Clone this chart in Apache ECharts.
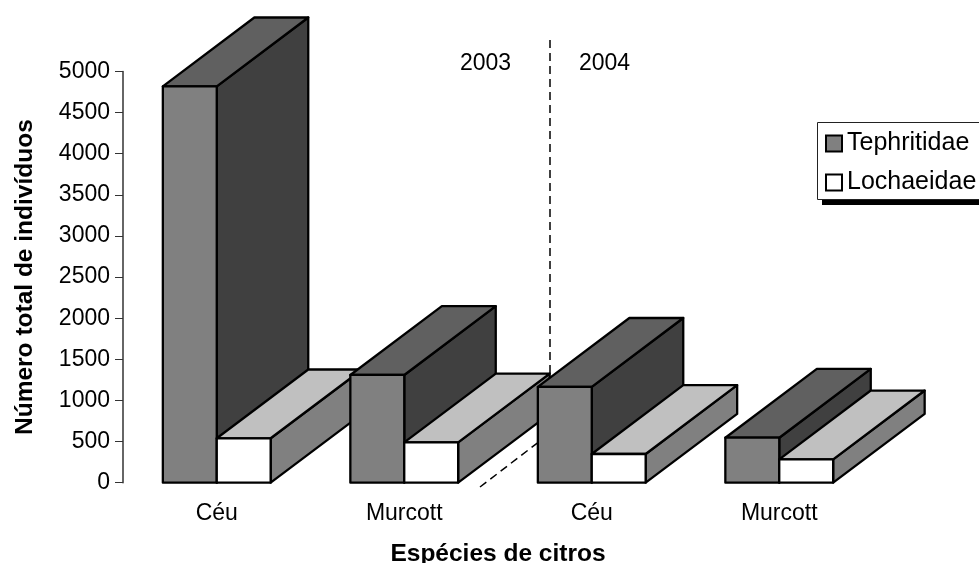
<!DOCTYPE html>
<html>
<head>
<meta charset="utf-8">
<script src="https://cdn.jsdelivr.net/npm/echarts@6/dist/echarts.min.js"></script>
<style>
  html, body { margin: 0; padding: 0; background: #fff; overflow: hidden; }
  #chart { width: 979px; height: 563px; }
</style>
</head>
<body>
<div id="chart"></div>
<script>
const categories = ['Céu', 'Murcott', 'Céu', 'Murcott'];
const tephritidae = [4820, 1310, 1166, 547];
const lochaeidae = [540, 490, 349, 284];
const yTicks = { min: 0, max: 5000, interval: 500 };

const FONT = '"Liberation Sans", Arial, sans-serif';
const DEPTH_X = 91.5;
const DEPTH_Y = 68.8;

// lado: -1 = barra à esquerda do centro da categoria, 0 = à direita
const barra3d = (lado, faces, ordem) => (params, api) => {
  const cat = api.value(0);
  const base = api.coord([cat, 0]);
  const topo = api.coord([cat, api.value(1)]);
  const largura = api.size([1, 0])[0] * 0.2875;
  const x0 = base[0] + lado * largura;
  const x1 = x0 + largura;
  const y0 = base[1];
  const y1 = topo[1];
  const z2 = params.dataIndex * 10 + ordem;
  const poly = (points, fill) => ({
    type: 'polygon',
    z2,
    shape: { points },
    style: { fill, stroke: '#000', lineWidth: 2.3, lineJoin: 'round' }
  });
  return {
    type: 'group',
    children: [
      poly([[x1, y0], [x1 + DEPTH_X, y0 - DEPTH_Y], [x1 + DEPTH_X, y1 - DEPTH_Y], [x1, y1]], faces.lado),
      poly([[x0, y1], [x1, y1], [x1 + DEPTH_X, y1 - DEPTH_Y], [x0 + DEPTH_X, y1 - DEPTH_Y]], faces.topo),
      poly([[x0, y0], [x1, y0], [x1, y1], [x0, y1]], faces.frente)
    ]
  };
};

const chart = echarts.init(document.getElementById('chart'));

chart.setOption({
  animation: false,
  backgroundColor: '#fff',
  textStyle: { fontFamily: FONT },
  grid: { left: 123, right: 106, top: 71.5, height: 411.2, outerBoundsMode: 'none' },
  legend: {
    left: 825,
    top: 131,
    orient: 'vertical',
    padding: 0,
    itemWidth: 16,
    itemHeight: 16,
    itemGap: 14,
    z: 5,
    textStyle: { fontFamily: FONT, fontSize: 25, color: '#000' },
    data: [
      { name: 'Tephritidae', icon: 'rect', itemStyle: { color: '#808080', borderColor: '#000', borderWidth: 2 } },
      { name: 'Lochaeidae', icon: 'rect', itemStyle: { color: '#fff', borderColor: '#000', borderWidth: 2 } }
    ]
  },
  xAxis: {
    type: 'category',
    data: categories,
    name: 'Espécies de citros',
    nameLocation: 'middle',
    nameGap: 59,
    nameTextStyle: { fontFamily: FONT, fontSize: 24.5, fontWeight: 'bold', color: '#000' },
    axisLine: { show: false },
    axisTick: { show: false },
    axisLabel: { fontFamily: FONT, fontSize: 23, color: '#000', margin: 19 }
  },
  yAxis: {
    type: 'value',
    min: yTicks.min,
    max: yTicks.max,
    interval: yTicks.interval,
    name: 'Número total de indivíduos',
    nameLocation: 'middle',
    nameGap: 85,
    nameTextStyle: { fontFamily: FONT, fontSize: 24.5, fontWeight: 'bold', color: '#000' },
    splitLine: { show: false },
    axisLine: { show: true, lineStyle: { color: '#333', width: 1.5 } },
    axisTick: { show: true, length: 8, lineStyle: { color: '#333', width: 1 } },
    axisLabel: { fontFamily: FONT, fontSize: 23, color: '#000', margin: 13, formatter: v => String(v) }
  },
  graphic: [
    {
      type: 'polyline',
      shape: { points: [[550, 40], [550, 376]] },
      style: { stroke: '#000', lineWidth: 1.5, lineDash: [8, 5], fill: null }
    },
    {
      type: 'polyline',
      shape: { points: [[480, 487], [540, 441]] },
      style: { stroke: '#000', lineWidth: 1.5, lineDash: [8, 5], fill: null }
    },
    { type: 'text', left: 460, top: 52, style: { text: '2003', font: '23px ' + FONT, fill: '#000' } },
    { type: 'text', left: 579, top: 52, style: { text: '2004', font: '23px ' + FONT, fill: '#000' } },
    // caixa da legenda com sombra preta, cortada na borda direita
    { type: 'rect', z: 3, shape: { x: 822, y: 128, width: 170, height: 77 }, style: { fill: '#000' } },
    { type: 'rect', z: 4, shape: { x: 817.5, y: 122.5, width: 170, height: 77 }, style: { fill: '#fff', stroke: '#222', lineWidth: 1 } }
  ],
  series: [
    {
      name: 'Tephritidae',
      type: 'custom',
      renderItem: barra3d(-1, { frente: '#808080', lado: '#404040', topo: '#606060' }, 0),
      encode: { x: 0, y: 1 },
      itemStyle: { color: '#808080' },
      data: tephritidae.map((v, i) => [i, v])
    },
    {
      name: 'Lochaeidae',
      type: 'custom',
      renderItem: barra3d(0, { frente: '#fff', lado: '#808080', topo: '#c0c0c0' }, 1),
      encode: { x: 0, y: 1 },
      itemStyle: { color: '#fff' },
      data: lochaeidae.map((v, i) => [i, v])
    }
  ]
});
</script>
</body>
</html>
